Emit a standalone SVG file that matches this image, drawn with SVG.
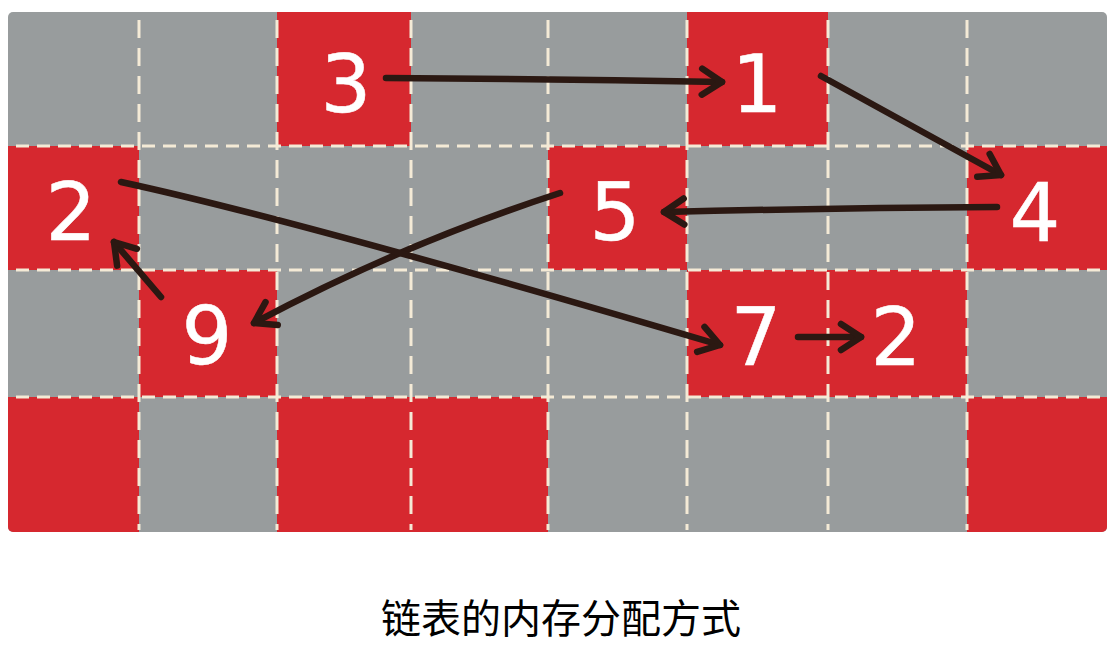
<svg xmlns="http://www.w3.org/2000/svg" width="1116" height="646" viewBox="0 0 1116 646">
<style>
.grey{fill:#989c9d}
.red{fill:#d6282f}
.vl{stroke:#f4ead6;stroke-width:3;stroke-dasharray:18 10;fill:none}
.hl{stroke:#f4ead6;stroke-width:3;stroke-dasharray:13 8;fill:none}
.num{font-family:"DejaVu Sans",sans-serif;font-size:80px;fill:#ffffff;stroke:#ffffff;stroke-width:0.5;text-anchor:middle}
.arr{stroke:#2b1812;stroke-width:6.5;fill:none;stroke-linecap:round;stroke-linejoin:round}
.cap{font-family:"Liberation Serif","Noto Sans CJK SC",serif;font-size:40px;fill:#000;text-anchor:middle}
</style>
<defs>
<clipPath id="gridclip"><rect x="8" y="12" width="1099" height="520" rx="5"/></clipPath>
<marker id="head" viewBox="0 0 28 32" refX="24" refY="16" markerWidth="28" markerHeight="32" markerUnits="userSpaceOnUse" orient="auto" overflow="visible">
<path d="M4,3 L24,16 L4,29" fill="none" stroke="#2b1812" stroke-width="6.5" stroke-linecap="round" stroke-linejoin="round"/>
</marker>
</defs>
<rect width="1116" height="646" fill="#ffffff"/>
<g id="grid" clip-path="url(#gridclip)">
<rect class="grey" x="8" y="12" width="1099" height="520"/>
<rect class="red" x="277" y="12" width="134" height="134"/>
<rect class="red" x="687" y="12" width="141" height="134"/>
<rect class="red" x="8" y="146" width="131" height="124"/>
<rect class="red" x="548" y="146" width="139" height="124"/>
<rect class="red" x="967" y="146" width="140" height="124"/>
<rect class="red" x="139" y="270" width="138" height="127"/>
<rect class="red" x="687" y="270" width="141" height="127"/>
<rect class="red" x="828" y="270" width="139" height="127"/>
<rect class="red" x="8" y="397" width="131" height="135"/>
<rect class="red" x="277" y="397" width="134" height="135"/>
<rect class="red" x="411" y="397" width="137" height="135"/>
<rect class="red" x="967" y="397" width="140" height="135"/>
<path class="vl" d="M139,20V530M277,20V530M411,20V530M548,20V530M687,20V530M828,20V530M967,20V530"/>
<path class="hl" d="M16,146H1104M16,270H1104M16,397H1104"/>
</g>
<g id="node-3"><text class="num" x="346" y="112">3</text></g>
<g id="node-1"><text class="num" x="757" y="112">1</text></g>
<g id="node-2a"><text class="num" x="71" y="240">2</text></g>
<g id="node-5"><text class="num" x="615" y="240">5</text></g>
<g id="node-4"><text class="num" x="1035" y="241">4</text></g>
<g id="node-9"><text class="num" x="207" y="364">9</text></g>
<g id="node-7"><text class="num" x="756" y="365">7</text></g>
<g id="node-2b"><text class="num" x="896" y="365">2</text></g>
<g id="connectors">
<path class="arr" marker-end="url(#head)" d="M386,78 Q555,79 722,82"/>
<path class="arr" marker-end="url(#head)" d="M821,76 Q915,128 1001,175"/>
<path class="arr" marker-end="url(#head)" d="M997,207 Q830,208 664,212"/>
<path class="arr" marker-end="url(#head)" d="M560,193 Q400,245 254,323"/>
<path class="arr" marker-end="url(#head)" d="M121,182 C260,212 500,280 720,345"/>
<path class="arr" marker-end="url(#head)" d="M161,297 L114,242"/>
<path class="arr" marker-end="url(#head)" d="M798,337 L861,337"/>
</g>
<text class="cap" x="561" y="633">链表的内存分配方式</text>
</svg>
